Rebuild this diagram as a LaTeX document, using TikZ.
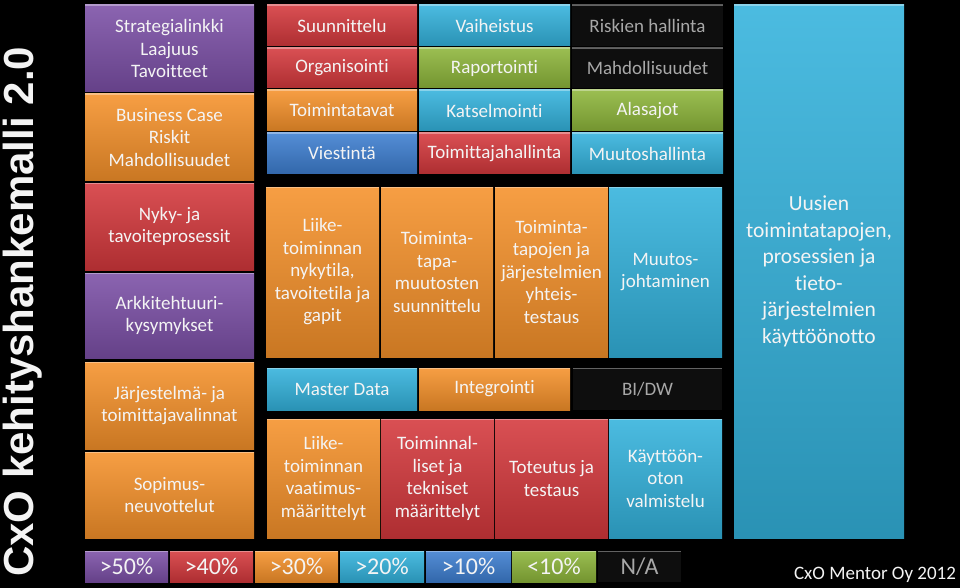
\documentclass[tikz,border=0pt]{standalone}
\usepackage{fontspec}
\setmainfont{Carlito}[Ligatures={NoCommon,NoRare,NoContextual}]
\newfontfamily\titlefont{Liberation Sans}
\definecolor{cpur}{HTML}{7B4FA6}
\definecolor{cora}{HTML}{F5912A}
\definecolor{cred}{HTML}{D4383C}
\definecolor{ccya}{HTML}{33B2DC}
\definecolor{cgrn}{HTML}{8DB53A}
\definecolor{cblu}{HTML}{3D7ED0}
\definecolor{cblk}{HTML}{0E0E0E}
\definecolor{txt}{HTML}{F4F4F4}
\definecolor{gtxt}{HTML}{A8A8A8}
\tikzset{
  box/.style={inner sep=0pt, align=center, text=txt,
    font=\fontsize{19}{22.5}\selectfont,
    path picture={\draw[white, opacity=0.35, line width=2pt]
      (path picture bounding box.north west) -- (path picture bounding box.north east);}},
  fillc/.style={top color=#1!88!white, middle color=#1, bottom color=#1!82!black},
  fillk/.style={fill=cblk, text=gtxt},
  legend/.style={font=\fontsize{24}{28}\selectfont},
  bigtext/.style={font=\fontsize{21.5}{26.5}\selectfont}
}
\newcommand\bx[8][]{\node[box,#7,minimum width={#4-#2},minimum height={#5-#3},#1] (#6) at ({(#2+#4)/2},{(#3+#5)/2}) {#8};}
\begin{document}
\begin{tikzpicture}[x=1pt,y=-1pt]
\fill[black] (0,0) rectangle (960,588);
\useasboundingbox (0,0) rectangle (960,588);
% title
\node[rotate=90, anchor=base west, inner sep=0pt, text=txt, font=\titlefont\bfseries\fontsize{42}{42}\selectfont] (title) at (33,577) {CxO kehityshankemalli 2.0};
% left column
\bx{85}{5}{254}{92}{l1}{fillc=cpur}{Strategialinkki\\Laajuus\\Tavoitteet}
\bx{85}{94}{254}{181}{l2}{fillc=cora}{Business Case\\Riskit\\Mahdollisuudet}
\bx{85}{183}{254}{270}{l3}{fillc=cred}{Nyky- ja\\tavoiteprosessit}
\bx{85}{273}{254}{358}{l4}{fillc=cpur}{Arkkitehtuuri-\\kysymykset}
\bx{85}{362}{254}{449}{l5}{fillc=cora}{Järjestelmä- ja\\toimittajavalinnat}
\bx{85}{452}{254}{538}{l6}{fillc=cora}{Sopimus-\\neuvottelut}
% top grid
\bx{267}{5}{417}{46}{g11}{fillc=cred}{Suunnittelu}
\bx{419}{5}{570}{46}{g12}{fillc=ccya}{Vaiheistus}
\bx{572}{5}{723}{46}{g13}{fillk}{Riskien hallinta}
\bx{267}{48}{417}{88}{g21}{fillc=cred}{Organisointi}
\bx{419}{48}{570}{88}{g22}{fillc=cgrn}{Raportointi}
\bx{572}{48}{723}{88}{g23}{fillk}{Mahdollisuudet}
\bx{267}{90}{417}{131}{g31}{fillc=cora}{Toimintatavat}
\bx{419}{90}{570}{131}{g32}{fillc=ccya}{Katselmointi}
\bx{572}{90}{723}{131}{g33}{fillc=cgrn}{Alasajot}
\bx{267}{133}{417}{174}{g41}{fillc=cblu}{Viestintä}
\bx{419}{133}{570}{174}{g42}{fillc=cred}{Toimittajahallinta}
\bx{572}{133}{723}{174}{g43}{fillc=ccya}{Muutoshallinta}
% middle row
\bx{266}{187}{379}{357}{m1}{fillc=cora}{Liike-\\toiminnan\\nykytila,\\tavoitetila ja\\gapit}
\bx{381}{187}{493}{357}{m2}{fillc=cora}{Toiminta-\\tapa-\\muutosten\\suunnittelu}
\bx{495}{187}{608}{357}{m3}{fillc=cora}{Toiminta-\\tapojen ja\\järjestelmien\\yhteis-\\testaus}
\bx{609}{187}{722}{357}{m4}{fillc=ccya}{Muutos-\\johtaminen}
% right big box
\bx[bigtext]{734}{5}{904}{538}{rb}{fillc=ccya}{Uusien\\toimintatapojen,\\prosessien ja\\tieto-\\järjestelmien\\käyttöönotto}
% lower strip
\bx{267}{368}{417}{410}{s1}{fillc=ccya}{Master Data}
\bx{419}{368}{570}{410}{s2}{fillc=cora}{Integrointi}
\bx{573}{368}{722}{410}{s3}{fillk}{BI/DW}
% bottom row
\bx{267}{419}{380}{538}{b1}{fillc=cora}{Liike-\\toiminnan\\vaatimus-\\määrittelyt}
\bx{381}{419}{494}{538}{b2}{fillc=cred}{Toiminnal-\\liset ja\\tekniset\\määrittelyt}
\bx{495}{419}{608}{538}{b3}{fillc=cred}{Toteutus ja\\testaus}
\bx{609}{419}{722}{538}{b4}{fillc=ccya}{Käyttöön-\\oton\\valmistelu}
% legend
\bx[legend]{85}{551}{168}{582}{k1}{fillc=cpur}{>50\%}
\bx[legend]{170}{551}{253}{582}{k2}{fillc=cred}{>40\%}
\bx[legend]{255}{551}{338}{582}{k3}{fillc=cora}{>30\%}
\bx[legend]{340}{551}{424}{582}{k4}{fillc=ccya}{>20\%}
\bx[legend]{426}{551}{511}{582}{k5}{fillc=cblu}{>10\%}
\bx[legend]{512}{551}{596}{582}{k6}{fillc=cgrn}{<10\%}
\bx[legend]{598}{551}{681}{582}{k7}{fillk}{N/A}
% copyright
\node[inner sep=0pt, text=txt, font=\fontsize{19}{23}\selectfont] (copy) at (875,575) {CxO Mentor Oy 2012};
\end{tikzpicture}
\end{document}
